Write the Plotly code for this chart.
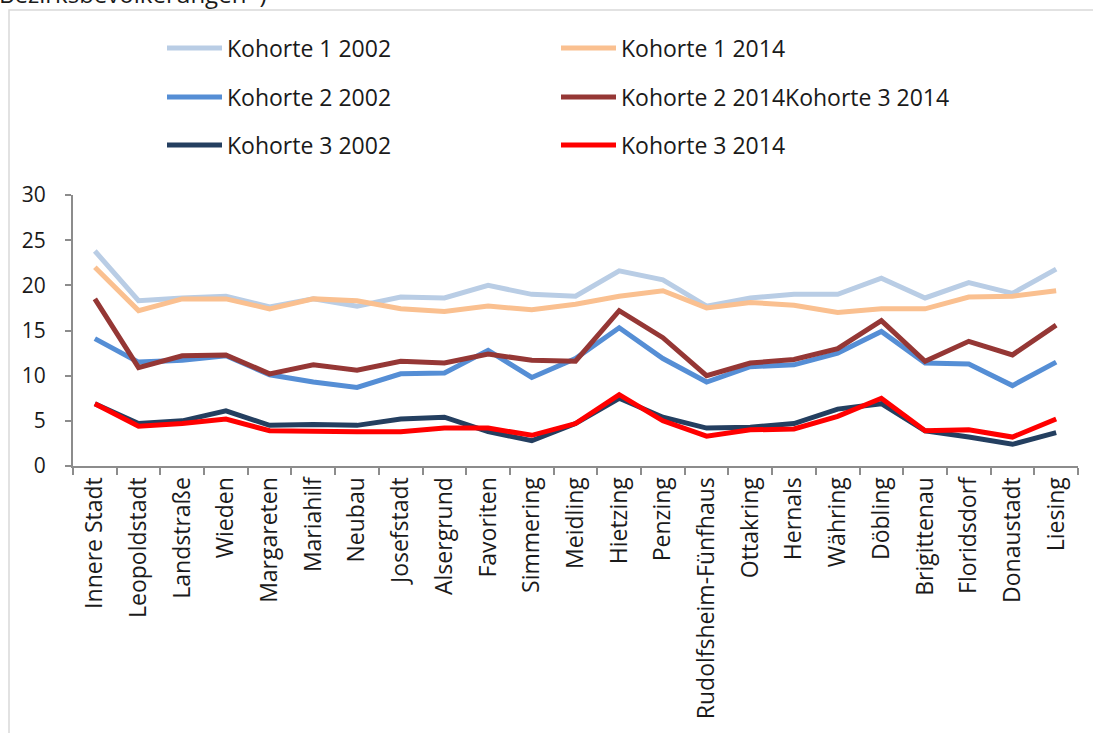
import plotly.graph_objects as go

districts = [
    "Innere Stadt", "Leopoldstadt", "Landstraße", "Wieden", "Margareten",
    "Mariahilf", "Neubau", "Josefstadt", "Alsergrund", "Favoriten",
    "Simmering", "Meidling", "Hietzing", "Penzing", "Rudolfsheim-Fünfhaus",
    "Ottakring", "Hernals", "Währing", "Döbling", "Brigittenau",
    "Floridsdorf", "Donaustadt", "Liesing",
]

k1_2002 = [23.8, 18.3, 18.6, 18.8, 17.6, 18.5, 17.7, 18.7, 18.6, 20.0, 19.0, 18.8,
           21.6, 20.6, 17.7, 18.6, 19.0, 19.0, 20.8, 18.6, 20.3, 19.1, 21.8]
k1_2014 = [22.0, 17.2, 18.5, 18.5, 17.4, 18.5, 18.3, 17.4, 17.1, 17.7, 17.3, 17.9,
           18.8, 19.4, 17.5, 18.1, 17.8, 17.0, 17.4, 17.4, 18.7, 18.8, 19.4]
k2_2002 = [14.1, 11.5, 11.7, 12.2, 10.1, 9.3, 8.7, 10.2, 10.3, 12.8, 9.8, 11.9,
           15.3, 11.9, 9.3, 11.0, 11.2, 12.5, 14.9, 11.4, 11.3, 8.9, 11.5]
k2_2014 = [18.5, 10.9, 12.2, 12.3, 10.2, 11.2, 10.6, 11.6, 11.4, 12.4, 11.7, 11.6,
           17.2, 14.2, 10.0, 11.4, 11.8, 13.0, 16.1, 11.6, 13.8, 12.3, 15.6]
k3_2002 = [6.9, 4.7, 5.0, 6.1, 4.5, 4.6, 4.5, 5.2, 5.4, 3.8, 2.8, 4.7,
           7.5, 5.4, 4.2, 4.3, 4.7, 6.3, 6.9, 3.9, 3.2, 2.4, 3.7]
k3_2014 = [6.9, 4.4, 4.7, 5.2, 3.9, 3.8, 3.8, 3.8, 4.2, 4.2, 3.4, 4.7,
           7.9, 5.0, 3.3, 4.0, 4.1, 5.5, 7.5, 3.9, 4.0, 3.2, 5.2]

y_ticks = [0, 5, 10, 15, 20, 25, 30]

# legend layout: three rows, each its own legend
series = [
    ("Kohorte 1 2002", k1_2002, "#B9CDE5", "legend"),
    ("Kohorte 1 2014", k1_2014, "#FAC090", "legend"),
    ("Kohorte 2 2002", k2_2002, "#558ED5", "legend2"),
    ("Kohorte 2 2014Kohorte 3 2014", k2_2014, "#953735", "legend2"),
    ("Kohorte 3 2002", k3_2002, "#243F60", "legend3"),
    ("Kohorte 3 2014", k3_2014, "#FF0000", "legend3"),
]

fig = go.Figure()
for name, vals, color, leg in series:
    fig.add_trace(go.Scatter(
        x=districts, y=vals, name=name, mode="lines",
        line=dict(color=color, width=5),
        legend=leg,
    ))

W, H = 1093, 733
pl, pr, pt, pb = 73, 15, 195, 267
plot_w = W - pl - pr
plot_h = H - pt - pb


def px_x(p):
    return (p - pl) / plot_w


def px_y(p):
    return (H - pb - p) / plot_h


font = "Open Sans"
text_color = "#1a1a1a"
axis_color = "#8c8c8c"

legend_common = dict(
    orientation="h", xanchor="left", yanchor="middle",
    x=px_x(162), entrywidth=324, entrywidthmode="pixels",
    font=dict(family=font, size=23, color=text_color),
    bgcolor="rgba(0,0,0,0)", itemwidth=55,
)

fig.update_layout(
    width=W, height=H,
    margin=dict(l=pl, r=pr, t=pt, b=pb, pad=0, autoexpand=False),
    paper_bgcolor="white", plot_bgcolor="white",
    showlegend=True,
    legend=dict(legend_common, y=px_y(48)),
    legend2=dict(legend_common, y=px_y(97)),
    legend3=dict(legend_common, y=px_y(145)),
    font=dict(family=font, color=text_color),
)

fig.update_xaxes(
    type="category", range=[-0.5, len(districts) - 0.5],
    tickangle=-90, tickson="boundaries",
    ticks="outside", ticklen=7, tickcolor=axis_color, tickwidth=2,
    showline=True, linecolor=axis_color, linewidth=2,
    showgrid=False, zeroline=False, automargin=False,
    tickfont=dict(family=font, size=23, color=text_color),
)
fig.update_yaxes(
    range=[0, 30], tickvals=y_ticks,
    ticks="outside", ticklen=6, tickcolor=axis_color, tickwidth=2,
    showline=True, linecolor=axis_color, linewidth=2,
    showgrid=False, zeroline=False, ticklabelstandoff=15, automargin=False,
    tickfont=dict(family=font, size=21, color=text_color),
)

# outer frame of the chart area
fig.add_shape(
    type="rect", xref="paper", yref="paper",
    x0=px_x(9), x1=px_x(W + 20), y0=px_y(H + 20), y1=px_y(10),
    line=dict(color="#d9d9d9", width=1.5), fillcolor="rgba(0,0,0,0)",
    layer="below",
)

# title cut off at the top of the page
fig.add_annotation(
    text="Bezirksbevölkerungen*)", xref="paper", yref="paper",
    x=px_x(-3), y=px_y(-7), xanchor="left", yanchor="middle",
    showarrow=False, font=dict(family=font, size=24, color=text_color),
)

# drop the default page margin so the figure sits at the window corner
fig.write_html(
    "out.html",
    config={"displayModeBar": False},
    post_script="document.body.style.margin='0';",
)
